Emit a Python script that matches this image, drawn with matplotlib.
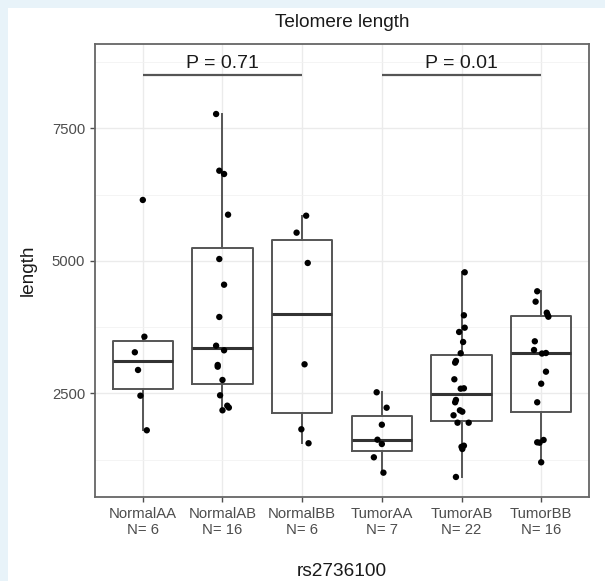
import matplotlib.pyplot as plt
import matplotlib.patches as mpatches
from matplotlib.ticker import FixedLocator

plt.rcParams['font.family'] = ['Liberation Sans', 'DejaVu Sans']

# telomere length per genotype group
groups = ["NormalAA", "NormalAB", "NormalBB", "TumorAA", "TumorAB", "TumorBB"]
normal_aa = [6148, 3568, 3274, 2940, 2455, 1802]
normal_ab = [7770, 6700, 6638, 5870, 5034, 4549, 3940, 3398, 3311, 3034, 3002,
             2751, 2462, 2266, 2230, 2179]
normal_bb = [5851, 5531, 4959, 3047, 1821, 1557]
tumor_aa = [2519, 2228, 1907, 1624, 1543, 1292, 1002]
tumor_ab = [4783, 3972, 3738, 3657, 3468, 3255, 3110, 3078, 2764, 2587, 2594,
            2374, 2330, 2179, 2153, 2085, 1945, 1945, 1511, 1490, 1449, 921]
tumor_bb = [4425, 4229, 4021, 3983, 3945, 3481, 3317, 3260, 3250, 2908, 2681,
            2330, 1619, 1575, 1568, 1198]

# horizontal jitter used for the points (category units)
jit_aa = [0.0, 0.02, -0.10, -0.06, -0.03, 0.05]
jit_ab = [-0.08, -0.04, 0.02, 0.07, -0.04, 0.02, -0.04, -0.08, 0.02, -0.06, -0.06,
          0.0, -0.03, 0.06, 0.08, 0.0]
jit_bb = [0.05, -0.07, 0.07, 0.03, -0.01, 0.08]
jit_taa = [-0.065, 0.06, 0.0, -0.055, 0.0, -0.1, 0.02]
jit_tab = [0.04, 0.03, 0.04, -0.03, 0.02, -0.01, -0.07, -0.08, -0.09, -0.01, 0.03,
           -0.07, -0.08, -0.02, 0.01, -0.1, -0.05, 0.09, 0.03, 0.0, 0.01, -0.07]
jit_tbb = [-0.05, -0.07, 0.07, 0.08, 0.09, -0.08, -0.09, 0.06, 0.01, 0.06, 0.0,
           -0.05, 0.03, -0.05, -0.02, 0.0]

n_labels = ["N= 6", "N= 16", "N= 6", "N= 7", "N= 22", "N= 16"]
p_values = ["P = 0.71", "P = 0.01"]
p_spans = [(1, 3), (4, 6)]
p_height = 8500

data = [normal_aa, normal_ab, normal_bb, tumor_aa, tumor_ab, tumor_bb]
jitter = [jit_aa, jit_ab, jit_bb, jit_taa, jit_tab, jit_tbb]

W, H = 605, 581
fig = plt.figure(figsize=(W / 100, H / 100), dpi=100, facecolor="#e8f3f9")
fig.patches.append(mpatches.Rectangle((8 / W, 0), 1, 1 - 8 / H, transform=fig.transFigure,
                                      facecolor="white", edgecolor="none", zorder=-5))

ax = fig.add_axes([95 / W, (H - 497) / H, (589 - 95) / W, (497 - 44) / H])
ax.set_facecolor("white")

pos = list(range(1, len(groups) + 1))
ax.boxplot(data, positions=pos, widths=0.76, showfliers=False, showcaps=False, whis=1.5,
           boxprops=dict(color="#555555", linewidth=1.4),
           whiskerprops=dict(color="#555555", linewidth=1.4),
           medianprops=dict(color="#333333", linewidth=2.2),
           zorder=2)

for i, (vals, jit) in enumerate(zip(data, jitter)):
    xs = [pos[i] + j for j in jit]
    ax.scatter(xs, vals, s=21, color="black", edgecolors="none", zorder=3)

# comparison brackets with p-values
for (a, b), txt in zip(p_spans, p_values):
    ax.plot([a, b], [p_height, p_height], color="#555555", lw=1.6, zorder=2,
            solid_capstyle="butt")
    ax.text((a + b) / 2, p_height + 60, txt, ha="center", va="bottom",
            fontsize=14, color="#1a1a1a")

ax.set_xlim(0.4, 6.6)
ax.set_ylim(543, 9091)
ax.set_xticks(pos)
ax.set_xticklabels([f"{g}\n{n}" for g, n in zip(groups, n_labels)], linespacing=1.2)
ax.set_yticks([2500, 5000, 7500])
ax.yaxis.set_minor_locator(FixedLocator([1250, 3750, 6250, 8750]))

ax.grid(True, which="major", color="#ebebeb", lw=1.0, zorder=0)
ax.grid(True, which="minor", axis="y", color="#f2f2f2", lw=0.6, zorder=0)
ax.set_axisbelow(True)
ax.tick_params(axis="both", which="major", length=3.6, width=1.0, color="#4d4d4d",
               labelsize=10.7, labelcolor="#4d4d4d", pad=3.5)
ax.tick_params(axis="y", which="minor", length=0)
for s in ax.spines.values():
    s.set_color("#666666")
    s.set_linewidth(1.3)

ax.set_xlabel("rs2736100", fontsize=13.7, color="#1a1a1a", va="baseline")
ax.xaxis.set_label_coords(0.5, -(576 - 497) / (497 - 44))
ax.set_ylabel("length", fontsize=13.7, color="#1a1a1a", labelpad=11)
ax.set_title("Telomere length", fontsize=13.7, color="#1a1a1a", pad=12)

fig.savefig("out.png", dpi=100, facecolor=fig.get_facecolor())
